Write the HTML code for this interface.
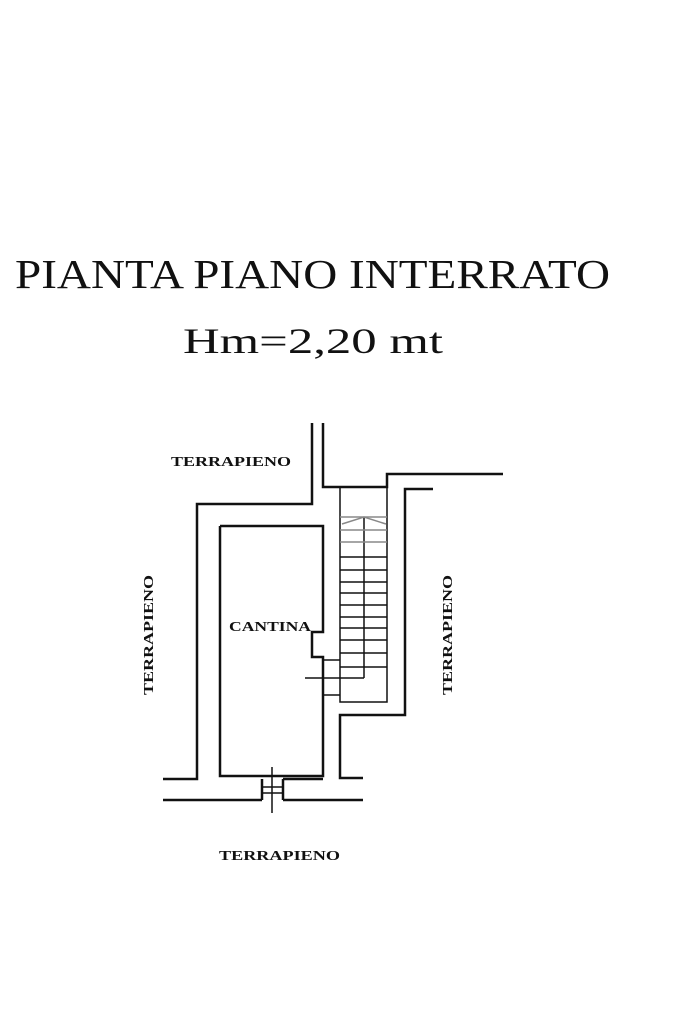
<!DOCTYPE html>
<html><head><style>
html,body{margin:0;padding:0;background:#fff;}
svg{display:block;}
</style></head><body>
<svg width="683" height="1024" viewBox="0 0 683 1024" xmlns="http://www.w3.org/2000/svg">
<rect width="683" height="1024" fill="#fff"/>
<g font-family="Liberation Serif, serif" fill="#111">
<text x="15" y="288" font-size="41" textLength="595" lengthAdjust="spacingAndGlyphs">PIANTA  PIANO  INTERRATO</text>
<text x="183" y="353" font-size="36" textLength="260" lengthAdjust="spacingAndGlyphs">Hm=2,20  mt</text>
<g font-weight="bold" font-size="14">
<text x="171" y="466" textLength="120" lengthAdjust="spacingAndGlyphs">TERRAPIENO</text>
<text x="229" y="631" textLength="82" lengthAdjust="spacingAndGlyphs">CANTINA</text>
<text x="219" y="860" textLength="121" lengthAdjust="spacingAndGlyphs">TERRAPIENO</text>
<text transform="translate(153,695) rotate(-90)" textLength="120" lengthAdjust="spacingAndGlyphs">TERRAPIENO</text>
<text transform="translate(452,695) rotate(-90)" textLength="120" lengthAdjust="spacingAndGlyphs">TERRAPIENO</text>
</g>
</g>
<g fill="none" stroke="#111" stroke-width="2.5">
<polyline points="312,423 312,504 197,504 197,779 163,779"/>
<polyline points="323,423 323,487 387,487 387,474 503,474"/>
<polyline points="433,489 405,489 405,715 340,715 340,778 363,778"/>
<polyline points="220,526 323,526 323,632 312,632 312,657 323,657 323,776 220,776 220,526"/>
<line x1="163" y1="800" x2="262" y2="800"/>
<line x1="283" y1="800" x2="363" y2="800"/>
<line x1="262" y1="779" x2="262" y2="800"/>
<line x1="283" y1="779" x2="283" y2="800"/>
<line x1="283" y1="779" x2="323" y2="779"/>
</g>
<g fill="none" stroke="#111" stroke-width="1.5">
<line x1="272" y1="767" x2="272" y2="813"/>
<line x1="262" y1="787" x2="283" y2="787"/>
<line x1="262" y1="793" x2="283" y2="793"/>
<polyline points="340,487 340,702 387,702 387,487"/>
<line x1="364" y1="517" x2="364" y2="678"/>
<line x1="323" y1="660" x2="340" y2="660"/>
<line x1="323" y1="695" x2="340" y2="695"/>
<line x1="305" y1="678" x2="364" y2="678"/>
<g>
<line x1="340" y1="557" x2="387" y2="557"/>
<line x1="340" y1="570" x2="387" y2="570"/>
<line x1="340" y1="582" x2="387" y2="582"/>
<line x1="340" y1="593" x2="387" y2="593"/>
<line x1="340" y1="605" x2="387" y2="605"/>
<line x1="340" y1="617" x2="387" y2="617"/>
<line x1="340" y1="628" x2="387" y2="628"/>
<line x1="340" y1="640" x2="387" y2="640"/>
<line x1="340" y1="653" x2="387" y2="653"/>
<line x1="340" y1="667" x2="387" y2="667"/>
</g>
</g>
<g fill="none" stroke="#888" stroke-width="1.5">
<line x1="340" y1="517" x2="387" y2="517"/>
<line x1="340" y1="530" x2="387" y2="530"/>
<line x1="340" y1="542" x2="387" y2="542"/>
<polyline points="342,524 364,517 386,524"/>
</g>
</svg>
</body></html>
